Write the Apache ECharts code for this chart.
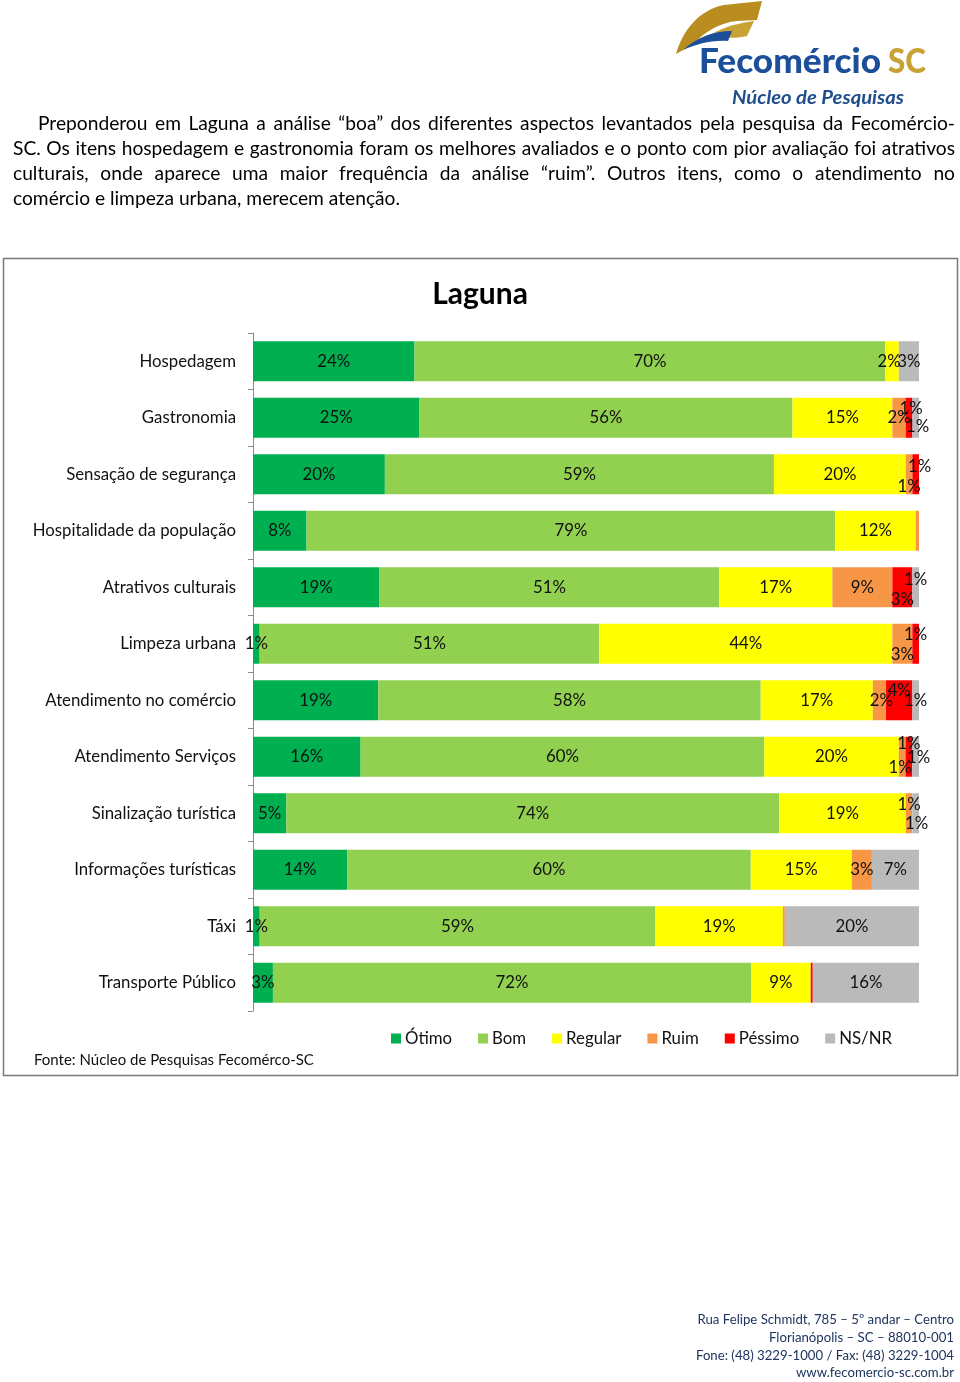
<!DOCTYPE html>
<html>
<head>
<meta charset="utf-8">
<script src="https://cdn.jsdelivr.net/npm/echarts@6/dist/echarts.min.js"></script>
<style>
  html, body { margin: 0; padding: 0; background: #fff; }
  body { width: 960px; height: 1382px; position: relative; overflow: hidden; font-family: Lato, "Open Sans", sans-serif; }
  #chart { position: absolute; left: 0; top: 0; width: 960px; height: 1382px; }
  #logo { position: absolute; left: 0; top: 0; }
  #para { position: absolute; left: 13px; top: 110px; width: 942px; font-size: 19.2px; line-height: 25px; color: #000; }
  #para div { white-space: nowrap; text-align: justify; text-align-last: justify; }
  #para div.last { text-align-last: left; }
  #addr { position: absolute; right: 6px; top: 1311px; text-align: right; font-size: 13.2px; line-height: 17.8px; color: #1f3560; }
</style>
</head>
<body>
<div id="chart"></div>
<svg id="logo" width="960" height="110" xmlns="http://www.w3.org/2000/svg">
  <path d="M676,54 C683,30 699,10 724,5 L762,1 L757,20 L737,21 C718,23 703,33 694,44 Z" fill="#b98d1f"/>
  <path d="M712,34 C725,26 740,23 754,21 L747,36 C735,39 722,38 712,34 Z" fill="#c9a236"/>
  <path d="M683,50 C696,38 713,31 732,31 L728,41 C711,40 697,44 683,50 Z" fill="#1c4f9a"/>
  <text x="699" y="73" font-family="Lato, 'Open Sans', sans-serif" font-weight="900" font-size="35" fill="#1c4f9a" textLength="182" lengthAdjust="spacingAndGlyphs">Fecomércio</text>
  <text x="888" y="73" font-family="Lato, 'Open Sans', sans-serif" font-weight="900" font-size="35" fill="#c9a236" textLength="38" lengthAdjust="spacingAndGlyphs">SC</text>
  <text x="732" y="104" font-family="Lato, 'Open Sans', sans-serif" font-style="italic" font-weight="700" font-size="19" fill="#1f4e8c" textLength="172" lengthAdjust="spacingAndGlyphs">Núcleo de Pesquisas</text>
</svg>
<div id="para">
  <div style="text-indent:25px">Preponderou em Laguna a análise “boa” dos diferentes aspectos levantados pela pesquisa da Fecomércio-</div>
  <div>SC. Os itens hospedagem e gastronomia foram os melhores avaliados e o ponto com pior avaliação foi atrativos</div>
  <div>culturais, onde aparece uma maior frequência da análise “ruim”. Outros itens, como o atendimento no</div>
  <div class="last">comércio e limpeza urbana, merecem atenção.</div>
</div>
<div id="addr">
  <div>Rua Felipe Schmidt, 785 – 5º andar – Centro</div>
  <div>Florianópolis – SC – 88010-001</div>
  <div>Fone: (48) 3229-1000 / Fax: (48) 3229-1004</div>
  <div>www.fecomercio-sc.com.br</div>
</div>
<script>
const categories = ['Hospedagem','Gastronomia','Sensação de segurança','Hospitalidade da população','Atrativos culturais','Limpeza urbana','Atendimento no comércio','Atendimento Serviços','Sinalização turística','Informações turísticas','Táxi','Transporte Público'];
const seriesNames = ['Ótimo','Bom','Regular','Ruim','Péssimo','NS/NR'];
const otimo   = [24, 25, 20, 8, 19, 1, 19, 16, 5, 14, 1, 3];
const bom     = [70, 56, 59, 79, 51, 51, 58, 60, 74, 60, 59, 72];
const regular = [2, 15, 20, 12, 17, 44, 17, 20, 19, 15, 19, 9];
const ruim    = [0, 2, 1, 0.5, 9, 3, 2, 1, 1, 3, 0.3, 0];
const pessimo = [0, 1, 1, 0, 3, 1, 4, 1, 0, 0, 0, 0.3];
const nsnr    = [3, 1, 0, 0, 1, 0, 1, 1, 1, 7, 20, 16];

const colors = ['#00B050', '#92D050', '#FFFF00', '#F79646', '#FF0000', '#BABABA'];
const FONT = 'Lato';

// label offsets for crowded small segments (category index -> series index -> [dx, dy])
const labelOffsets = {
  0: {2: [-3, 0]},
  1: {4: [2, -9], 5: [2, 9]},
  2: {3: [0, 12], 4: [4, -8]},
  4: {4: [0, 12], 5: [0, -8]},
  5: {3: [0, 11], 4: [0, -9]},
  6: {3: [2, 0], 4: [0, -10]},
  7: {3: [-2, 11], 4: [0, -13], 5: [3, 1]},
  8: {3: [0, -9], 5: [1, 10]}
};

const all = [otimo, bom, regular, ruim, pessimo, nsnr];
const totals = categories.map((c, i) => all.reduce((s, arr) => s + arr[i], 0));

const series = all.map((arr, si) => ({
  name: seriesNames[si],
  type: 'bar',
  stack: 'total',
  barWidth: 40,
  itemStyle: { color: colors[si] },
  emphasis: { disabled: true },
  data: arr.map((v, ci) => {
    const off = (labelOffsets[ci] && labelOffsets[ci][si]) || [0, 0];
    return {
      value: v / totals[ci] * 100,
      raw: v,
      label: {
        show: v >= 1,
        offset: off
      }
    };
  }),
  label: {
    position: 'inside',
    color: '#111',
    fontFamily: FONT,
    fontSize: 16.8,
    formatter: p => p.data.raw + '%'
  }
}));

const chart = echarts.init(document.getElementById('chart'), null, { renderer: 'canvas' });
chart.setOption({
  animation: false,
  title: {
    text: 'Laguna',
    left: 'center',
    top: 274,
    textStyle: { fontFamily: FONT, fontWeight: 'bold', fontSize: 30, color: '#000' }
  },
  legend: {
    data: seriesNames,
    left: 386,
    top: 1025,
    itemWidth: 10,
    itemHeight: 10,
    itemGap: 26,
    icon: 'rect',
    textStyle: { fontFamily: FONT, fontSize: 16.8, color: '#111', padding: [0, 0, 0, -1] }
  },
  grid: { left: 253, right: 41, top: 333, bottom: 371, containLabel: false },
  xAxis: {
    type: 'value',
    min: 0,
    max: 100,
    show: false
  },
  yAxis: {
    type: 'category',
    data: categories,
    inverse: true,
    axisLine: { show: true, lineStyle: { color: '#8a8a8a', width: 1 } },
    axisTick: { show: true, length: 5, lineStyle: { color: '#8a8a8a' } },
    axisLabel: { fontFamily: FONT, fontSize: 16.8, color: '#111', margin: 17 }
  },
  graphic: [
    { type: 'rect', shape: { x: 3.5, y: 258.5, width: 954, height: 817 }, style: { fill: null, stroke: '#7a7a7a', lineWidth: 1.5 }, silent: true },
    { type: 'text', left: 34, top: 1053, style: { text: 'Fonte: Núcleo de Pesquisas Fecomérco-SC', font: '15px Lato', fill: '#111' } }
  ],
  series: series
});
</script>
</body>
</html>
